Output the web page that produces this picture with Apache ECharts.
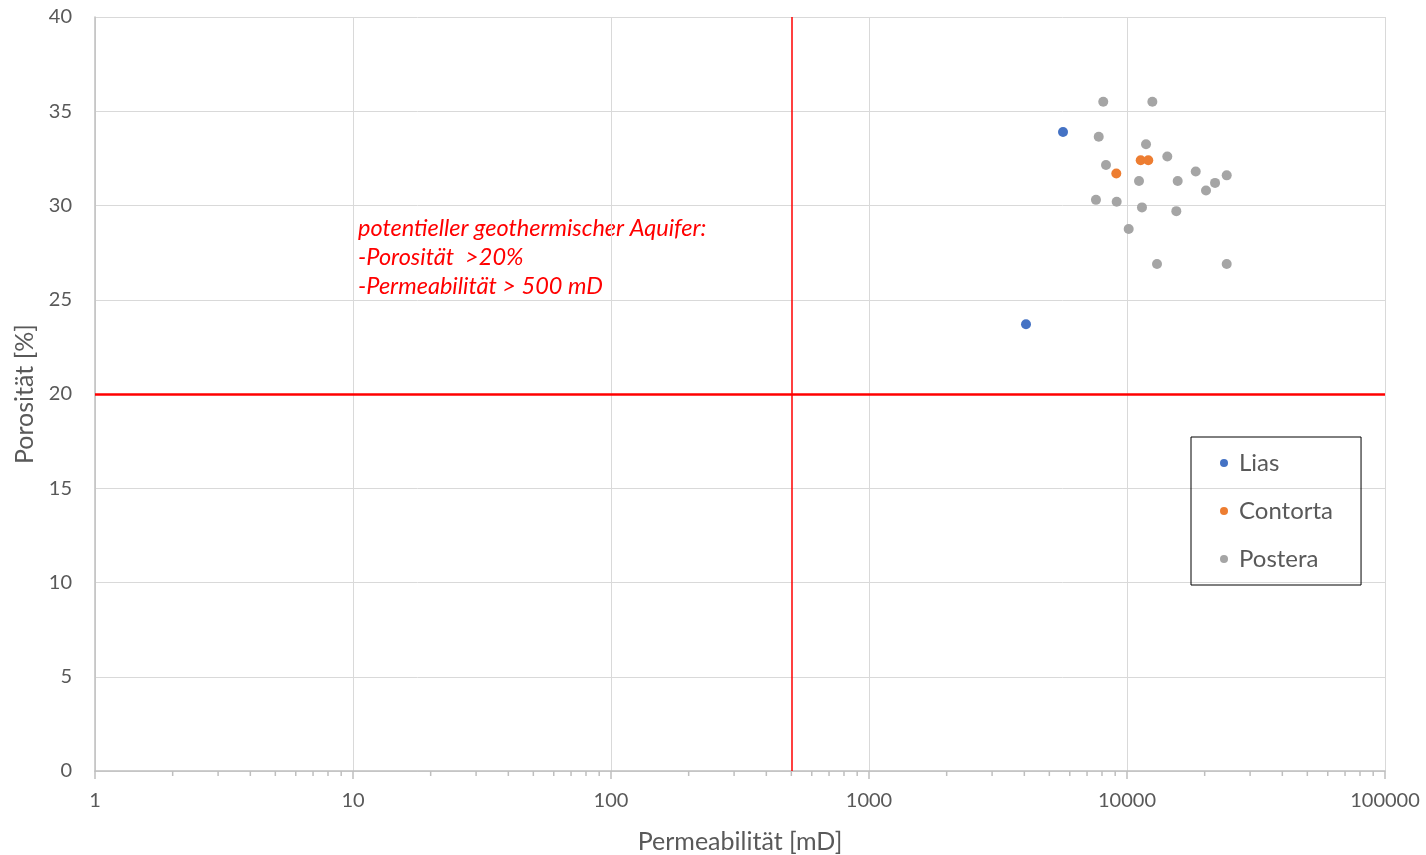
<!DOCTYPE html>
<html>
<head>
<meta charset="utf-8">
<title>Porosität vs Permeabilität</title>
<script src="https://cdn.jsdelivr.net/npm/echarts@6/dist/echarts.min.js"></script>
<style>
  html, body { margin: 0; padding: 0; background: #fff; }
  #chart { width: 1426px; height: 855px; }
</style>
</head>
<body>
<div id="chart"></div>
<script>
// data: [permeability mD, porosity %]
const lias = [[5650, 33.9], [4060, 23.7]]
const contorta = [[9090, 31.7], [11300, 32.4], [12090, 32.4]]
const postera = [
  [8090, 35.5], [12540, 35.5], [7770, 33.65], [11850, 33.25], [8290, 32.15],
  [14330, 32.6], [11130, 31.3], [15720, 31.3], [18470, 31.8], [21940, 31.2],
  [24350, 31.6], [20240, 30.8], [7580, 30.3], [9120, 30.2], [11430, 29.9],
  [15530, 29.7], [10150, 28.75], [13070, 26.9], [24350, 26.9]
]
const seriesNames = ["Lias", "Contorta", "Postera"]
const seriesColors = ["#4472C4", "#ED7D31", "#A5A5A5"]
// thresholds
const minPermeability = 500
const minPorosity = 20
const noteLines = [
  "potentieller geothermischer Aquifer:",
  "-Porosität  >20%",
  "-Permeabilität > 500 mD"
]
// minor log ticks between decades
const minorTicks = []
for (const d of [1, 10, 100, 1000, 10000]) {
  for (const m of [2, 3, 4, 5, 6, 7, 8, 9]) minorTicks.push([m * d, 0])
}

const font = "Lato, 'Liberation Sans', sans-serif"
const gray = "#595959"

const chart = echarts.init(document.getElementById("chart"))
chart.setOption({
  animation: false,
  textStyle: { fontFamily: font },
  grid: { left: 95, right: 41, top: 17, bottom: 84, outerBoundsMode: "none", containLabel: false },
  xAxis: {
    type: "log",
    logBase: 10,
    min: 1,
    max: 100000,
    name: "Permeabilität [mD]",
    nameLocation: "middle",
    nameGap: 58,
    nameTextStyle: { color: gray, fontSize: 25, fontFamily: font },
    axisLine: { lineStyle: { color: "#bfbfbf", width: 1.5 } },
    axisTick: { show: true, inside: false, length: 8, lineStyle: { color: "#bfbfbf", width: 1.5 } },
    axisLabel: { color: gray, fontSize: 20, margin: 20, fontFamily: font, formatter: v => String(v) },
    splitLine: { show: true, lineStyle: { color: "#d9d9d9", width: 1 } }
  },
  yAxis: {
    type: "value",
    min: 0,
    max: 40,
    interval: 5,
    name: "Porosität [%]",
    nameLocation: "middle",
    nameGap: 58,
    nameTextStyle: { color: gray, fontSize: 25, fontFamily: font },
    axisLine: { show: true, lineStyle: { color: "#bfbfbf", width: 1.5 } },
    axisTick: { show: false },
    axisLabel: { color: gray, fontSize: 20, margin: 23, fontFamily: font },
    splitLine: { show: true, lineStyle: { color: "#d9d9d9", width: 1 } }
  },
  legend: {
    data: seriesNames,
    orient: "vertical",
    left: 1191,
    top: 437,
    padding: [14, 28, 14, 29],
    itemGap: 24,
    itemWidth: 8,
    itemHeight: 8,
    icon: "circle",
    borderColor: "#000",
    borderWidth: 1,
    textStyle: { color: gray, fontSize: 24, fontFamily: font, padding: [0, 0, 0, 6] }
  },
  graphic: [{
    type: "text",
    left: 358,
    top: 214,
    style: {
      text: noteLines.join("\n"),
      fill: "#ff0000",
      fontSize: 23.5,
      fontStyle: "italic",
      lineHeight: 29,
      fontFamily: font
    }
  }],
  series: [
    {
      name: seriesNames[0],
      type: "scatter",
      data: lias,
      symbolSize: 10,
      itemStyle: { color: seriesColors[0], opacity: 1 },
      z: 5,
      markLine: {
        silent: true,
        symbol: "none",
        label: { show: false },
        data: [
          { xAxis: minPermeability, lineStyle: { color: "#ff0000", width: 1.5, type: "solid" } },
          { yAxis: minPorosity, lineStyle: { color: "#ff0000", width: 2.5, type: "solid" } }
        ]
      }
    },
    {
      name: seriesNames[1],
      type: "scatter",
      data: contorta,
      symbolSize: 10,
      itemStyle: { color: seriesColors[1], opacity: 1 },
      z: 5
    },
    {
      name: seriesNames[2],
      type: "scatter",
      data: postera,
      symbolSize: 10,
      itemStyle: { color: seriesColors[2], opacity: 1 },
      z: 4
    },
    {
      // minor ticks of the log axis
      type: "custom",
      data: minorTicks,
      silent: true,
      clip: false,
      renderItem: (params, api) => {
        const p = api.coord([api.value(0), api.value(1)])
        return {
          type: "line",
          shape: { x1: p[0], y1: p[1], x2: p[0], y2: p[1] + 5 },
          style: { stroke: "#bfbfbf", lineWidth: 1.5 }
        }
      }
    }
  ]
})
</script>
</body>
</html>
